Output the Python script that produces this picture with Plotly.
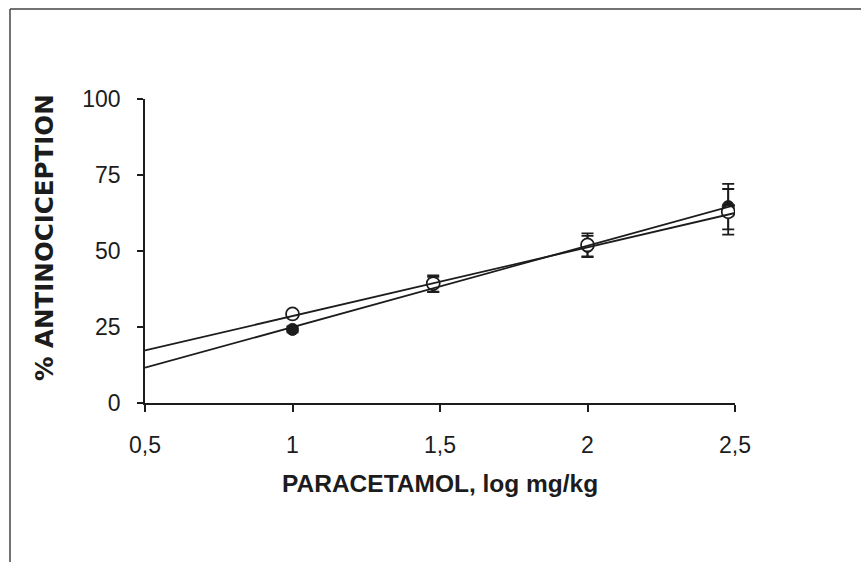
import plotly.graph_objects as go

# --- data ---
dose_log = [1.0, 1.477, 2.0, 2.477]              # PARACETAMOL, log mg/kg
open_mean = [29.3, 39.3, 52.0, 62.9]             # open circles
open_err = [0.8, 2.7, 3.8, 7.5]
filled_mean = [24.2, 39.0, 51.5, 64.6]           # filled circles
filled_err = [1.0, 2.5, 3.5, 7.5]

fit_x = [0.5, 2.5]
fit_open = [17.3, 62.5]
fit_filled = [11.6, 65.1]

x_ticks = [0.5, 1.0, 1.5, 2.0, 2.5]
x_tick_labels = ["0,5", "1", "1,5", "2", "2,5"]
y_ticks = [0, 25, 50, 75, 100]

INK = "#1c1c1c"
W, H = 861, 562
L, R, T, B = 145, 126, 99, 159

fig = go.Figure()

fig.add_trace(go.Scatter(
    x=dose_log, y=filled_mean, mode="markers",
    marker=dict(symbol="circle", size=12, color=INK, line=dict(color=INK, width=1)),
    error_y=dict(type="data", array=filled_err, visible=True, color=INK, thickness=1.8, width=6),
    showlegend=False, cliponaxis=True,
))
fig.add_trace(go.Scatter(
    x=dose_log, y=open_mean, mode="markers",
    marker=dict(symbol="circle", size=13, color="white", line=dict(color=INK, width=1.7)),
    error_y=dict(type="data", array=open_err, visible=True, color=INK, thickness=1.8, width=6),
    showlegend=False,
))
fig.add_trace(go.Scatter(
    x=fit_x, y=fit_open, mode="lines",
    line=dict(color=INK, width=1.8), showlegend=False,
))
fig.add_trace(go.Scatter(
    x=fit_x, y=fit_filled, mode="lines",
    line=dict(color=INK, width=1.8), showlegend=False,
))

pw, ph = W - L - R, H - T - B
def px_to_paper_x(px):
    return (px - L) / pw
def px_to_paper_y(py):
    return (H - B - py) / ph

frame_left = px_to_paper_x(10)
frame_top = px_to_paper_y(9)
fig.add_shape(type="line", xref="paper", yref="paper",
              x0=frame_left, x1=frame_left, y0=frame_top, y1=px_to_paper_y(570),
              line=dict(color="#444444", width=1.5))
fig.add_shape(type="line", xref="paper", yref="paper",
              x0=frame_left, x1=px_to_paper_x(870), y0=frame_top, y1=frame_top,
              line=dict(color="#444444", width=1.5))

fig.add_annotation(
    xref="paper", yref="paper", x=px_to_paper_x(44), y=px_to_paper_y(238),
    text="% ANTINOCICEPTION", textangle=-90, showarrow=False,
    xanchor="center", yanchor="middle",
    font=dict(family="DejaVu Sans", size=24.5, color=INK, weight="bold"),
)
fig.add_annotation(
    xref="paper", yref="paper", x=px_to_paper_x(440), y=px_to_paper_y(483),
    text="PARACETAMOL, log mg/kg", showarrow=False,
    xanchor="center", yanchor="middle",
    font=dict(family="Liberation Sans", size=24.5, color=INK, weight="bold"),
)

fig.update_layout(
    width=W, height=H,
    margin=dict(l=L, r=R, t=T, b=B, autoexpand=False),
    paper_bgcolor="white", plot_bgcolor="white",
    font=dict(family="Liberation Sans", color=INK),
)
fig.update_xaxes(
    range=[0.5, 2.5], tickvals=x_ticks, ticktext=x_tick_labels,
    showgrid=False, zeroline=False, showline=True, linecolor=INK, linewidth=1.6,
    ticks="outside", ticklen=7, tickwidth=1.6, tickcolor=INK,
    tickfont=dict(size=23, color=INK), ticklabelstandoff=14,
)
fig.update_yaxes(
    range=[0, 100], tickvals=y_ticks,
    showgrid=False, zeroline=False, showline=True, linecolor=INK, linewidth=1.6,
    ticks="outside", ticklen=6, tickwidth=1.6, tickcolor=INK,
    tickfont=dict(size=23, color=INK), ticklabelstandoff=12,
)

fig.write_html("out.html")
